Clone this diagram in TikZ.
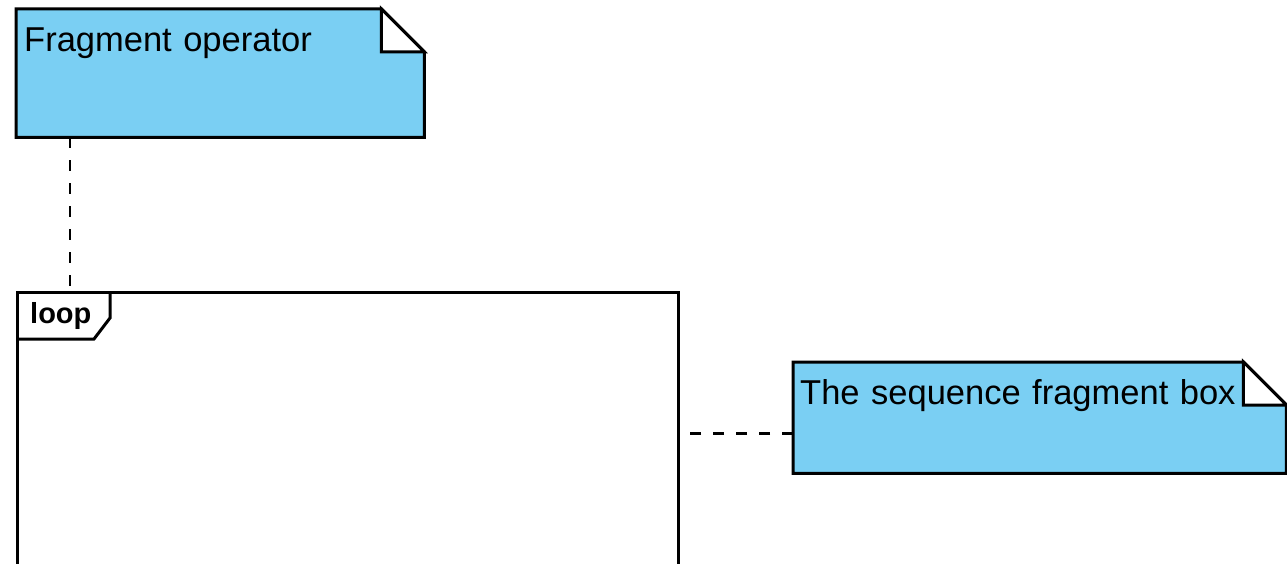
\documentclass[tikz,border=0pt]{standalone}
\usepackage{fontspec}
\setmainfont{Liberation Sans}
\usepackage{xcolor}
\usetikzlibrary{positioning, calc}

\definecolor{noteblue}{RGB}{122,207,243}
\newcommand{\fold}{43}

\begin{document}
\begin{tikzpicture}[x=1pt, y=-1pt,
			notebox/.style={rectangle, fill=noteblue, anchor=north west, align=left,
					inner xsep=8pt, inner ysep=0pt, text height=42pt,
					font=\fontsize{34.5}{42}\selectfont},
			outline/.style={draw=black, line width=3pt, line join=miter},
			fragbox/.style={rectangle, draw=black, line width=3pt, anchor=north west,
					minimum width=661pt, minimum height=340pt, inner sep=0pt},
			link/.style={draw, line width=2.8pt, dash pattern=on 11pt off 12pt}]

		\clip (0,0) rectangle (1287,564);

		% Define nodes
		\node [notebox, text width=392pt, text depth=86pt] (opnote) at (16,9) {Fragment operator};
		\node [notebox, text width=479pt, inner xsep=7pt, text depth=69pt] (boxnote) at (793,362) {The sequence fragment box};
		\node [fragbox] (frame) at (16,291) {};
		\node [anchor=base west, inner sep=0pt, font=\fontsize{29}{34}\selectfont\bfseries] (looptag) at (30,323) {loop};

		% Folded corners
		\foreach \n in {opnote, boxnote}
			{
				\fill[white] ([xshift=-\fold]\n.north east) rectangle ([yshift=-\fold]\n.north east);
				\draw[outline] (\n.north west) -- ([xshift=-\fold]\n.north east) -- ([yshift=-\fold]\n.north east)
					-- (\n.south east) -- (\n.south west) -- cycle;
				\draw[outline, fill=white] ([xshift=-\fold]\n.north east) |- ([yshift=-\fold]\n.north east) -- cycle;
			}

		% Operator tag
		\draw[outline] ([xshift=94]frame.north west) -- ++(0,27) -- ++(-16,21) -- ++(-78,0);

		% Draw connections
		\coordinate (oppin) at ([xshift=54]opnote.south west);
		\path [link] (oppin) -- (oppin |- frame.north);
		\coordinate (boxpin) at ([yshift=-15.5]boxnote.west);
		\coordinate (frameside) at ([xshift=10]frame.east);
		\path [link] (boxpin) -- (frameside |- boxpin);

	\end{tikzpicture}
\end{document}
